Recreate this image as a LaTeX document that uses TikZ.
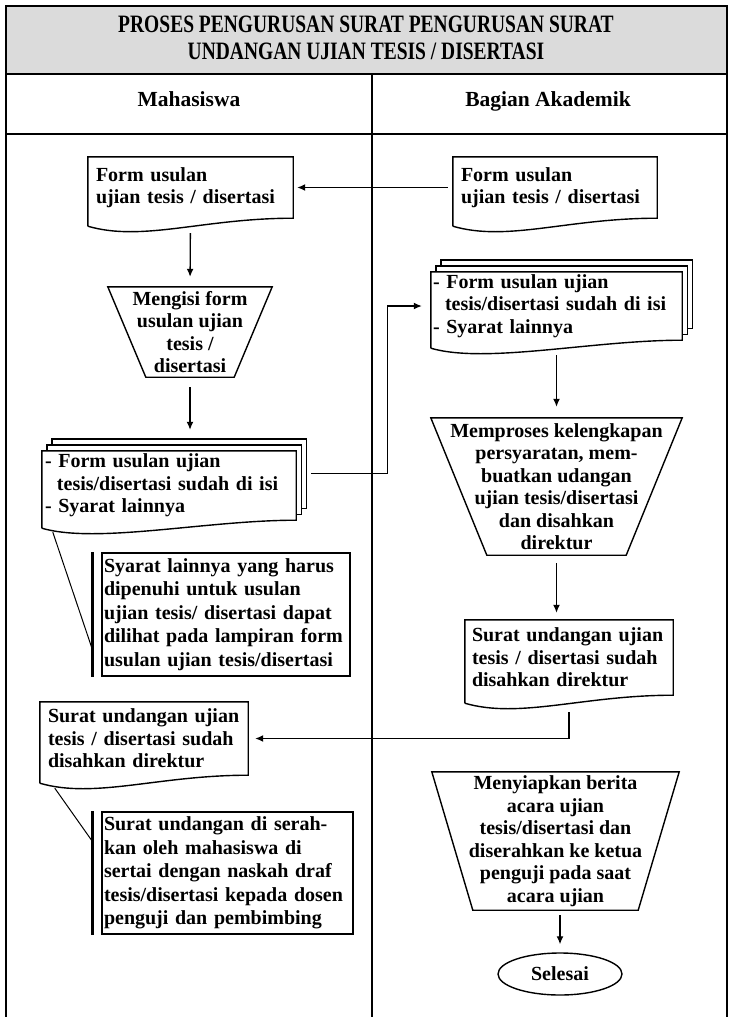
\documentclass[tikz,border=0pt]{standalone}
\usepackage{fontspec}
\setmainfont{Liberation Serif}
\newfontfamily\titlefont[FakeStretch=0.78]{Liberation Serif}
\usetikzlibrary{positioning,shapes.geometric,arrows.meta}

% document outline with a wavy lower edge
\newcommand{\docline}[1]{%
  \draw[boxline] ([shift={(0,8)}]#1.south west) -- (#1.north west) -- (#1.north east) -- (#1.south east)
    .. controls +(-90,0) and +(55,16) .. ([shift={(0,8)}]#1.south west);}
% the two sheets behind a stacked document
\newcommand{\sheetline}[1]{%
  \draw[boxline] ([xshift=5pt]#1.north west) -- ++(0,-6) -| ([shift={(5,-6)}]#1.south east) -- ++(-5,0);
  \draw[boxline] ([shift={(10,-6)}]#1.north west) -- ++(0,-6) -| ([shift={(10,-12)}]#1.south east) -- ++(-5,0);}
% manual operation (upside-down trapezoid)
\newcommand{\trayline}[2]{%
  \draw[boxline] (#1.north west) -- (#1.north east) -- ([xshift=-#2pt]#1.south east)
    -- ([xshift=#2pt]#1.south west) -- cycle;}

\begin{document}
\begin{tikzpicture}[x=1pt,y=-1pt,
  every node/.style={font=\fontsize{20}{22.5}\selectfont\bfseries},
  lane/.style={line width=2.2pt},
  boxline/.style={line width=1.4pt},
  lanehead/.style={anchor=base,font=\fontsize{21.5}{24}\selectfont\bfseries},
  doc/.style 2 args={rectangle,text width=#1,minimum height=#2,inner xsep=8pt,inner ysep=0pt,align=left},
  tray/.style 2 args={rectangle,minimum width=#1,minimum height=#2,inner sep=0pt,align=center},
  note/.style 2 args={draw,line width=1.2pt,text width=#1,minimum height=#2,inner xsep=2pt,inner ysep=0pt,
    align=left,font=\fontsize{20}{23.5}\selectfont\bfseries},
  flow/.style={line width=1.3pt,-{Latex[length=8pt,width=7pt]},shorten >=4pt,shorten <=5pt},
]
\useasboundingbox (0,0) rectangle (729,1017);

% lanes
\fill[gray!28] (6,6) rectangle (727,74);
\draw[lane] (6,1017) -- (6,6) -- (727,6) -- (727,1017);
\draw[lane] (6,74) -- (727,74);
\draw[lane] (6,134) -- (727,134);
\draw[lane] (372,74) -- (372,1017);

\node (title) at (366,38) [font=\titlefont\fontsize{25}{27}\selectfont\bfseries,align=center]
  {PROSES PENGURUSAN SURAT PENGURUSAN SURAT\\UNDANGAN UJIAN TESIS / DISERTASI};
\node (mhs) at (189,106) [lanehead] {Mahasiswa};
\node (bag) at (548,106) [lanehead] {Bagian Akademik};

% Mahasiswa
\node (formM) at (190.5,187.5) [doc={189pt}{61pt}] {Form usulan\\ujian tesis / disertasi};
\docline{formM}
\node (isi) at (190,332) [tray={164pt}{90pt}] {Mengisi form\\usulan ujian\\tesis /\\disertasi};
\trayline{isi}{38}
\node (berkasM) at (169,485.5) [doc={248pt}{69pt},inner xsep=3pt]
  {- Form usulan ujian\\\hspace*{0.6em}tesis/disertasi sudah di isi\\- Syarat lainnya};
\sheetline{berkasM}
\docline{berkasM}
\node (syaratM) at (226,614.5) [note={244pt}{123pt}]
  {Syarat lainnya yang harus\\dipenuhi untuk usulan\\ujian tesis/ disertasi dapat\\dilihat pada lampiran form\\usulan ujian tesis/disertasi};
\draw[line width=3pt] ([xshift=-9pt]syaratM.north west) -- ([xshift=-9pt]syaratM.south west);
\draw[line width=1pt] ([shift={(11,12)}]berkasM.south west) -- ([shift={(-9,-27)}]syaratM.south west);
\node (suratM) at (144,738.5) [doc={192pt}{73pt}] {Surat undangan ujian\\tesis / disertasi sudah\\disahkan direktur};
\docline{suratM}
\node (serahM) at (227.5,873) [note={247pt}{122pt}]
  {Surat undangan di serah-\\kan oleh mahasiswa di\\sertai dengan naskah draf\\tesis/disertasi kepada dosen\\penguji dan pembimbing};
\draw[line width=3pt] ([xshift=-9pt]serahM.north west) -- ([xshift=-9pt]serahM.south west);
\draw[line width=1pt] ([shift={(15,13)}]suratM.south west) -- ([shift={(-9,30)}]serahM.north west);

% Bagian Akademik
\node (formB) at (555,187.5) [doc={188pt}{61pt}] {Form usulan\\ujian tesis / disertasi};
\docline{formB}
\node (berkasB) at (556.5,306) [doc={247pt}{68pt},inner xsep=2pt]
  {- Form usulan ujian\\\hspace*{0.6em}tesis/disertasi sudah di isi\\- Syarat lainnya};
\sheetline{berkasB}
\docline{berkasB}
\node (proses) at (556.5,486.5) [tray={251pt}{137pt}]
  {Memproses kelengkapan\\persyaratan, mem-\\buatkan udangan\\ujian tesis/disertasi\\dan disahkan\\direktur};
\trayline{proses}{56}
\node (suratB) at (569,657.5) [doc={194pt}{75pt},inner xsep=7pt] {Surat undangan ujian\\tesis / disertasi sudah\\disahkan direktur};
\docline{suratB}
\node (siapkan) at (555.5,841) [tray={247pt}{138pt}]
  {Menyiapkan berita\\acara ujian\\tesis/disertasi dan\\diserahkan ke ketua\\penguji pada saat\\acara ujian};
\trayline{siapkan}{41}
\node (selesai) at (560,974) [ellipse,draw,boxline,minimum width=124pt,minimum height=42pt] {Selesai};

% connectors
\draw[flow] (formB.west) -- (formM.east);
\draw[flow,shorten <=15pt,shorten >=10pt] (formM.south) -- (isi.north);
\draw[flow,shorten <=10pt,shorten >=21pt] (isi.south) -- (isi.south |- berkasM.north);
\draw[flow,shorten <=15pt,shorten >=9pt] ([yshift=12pt]berkasM.east) -- ++(91,0) |- (berkasB.west);
\draw[flow,shorten <=15pt,shorten >=11pt] (berkasB.south) -- (proses.north);
\draw[flow,shorten <=8pt,shorten >=7pt] (proses.south) -- (proses.south |- suratB.north);
\draw[flow,shorten <=17pt,shorten >=7pt] (suratB.south) |- (suratM.east);
\draw[flow,shorten <=5pt,shorten >=8pt] (selesai.north |- siapkan.south) -- (selesai.north);
\end{tikzpicture}
\end{document}
